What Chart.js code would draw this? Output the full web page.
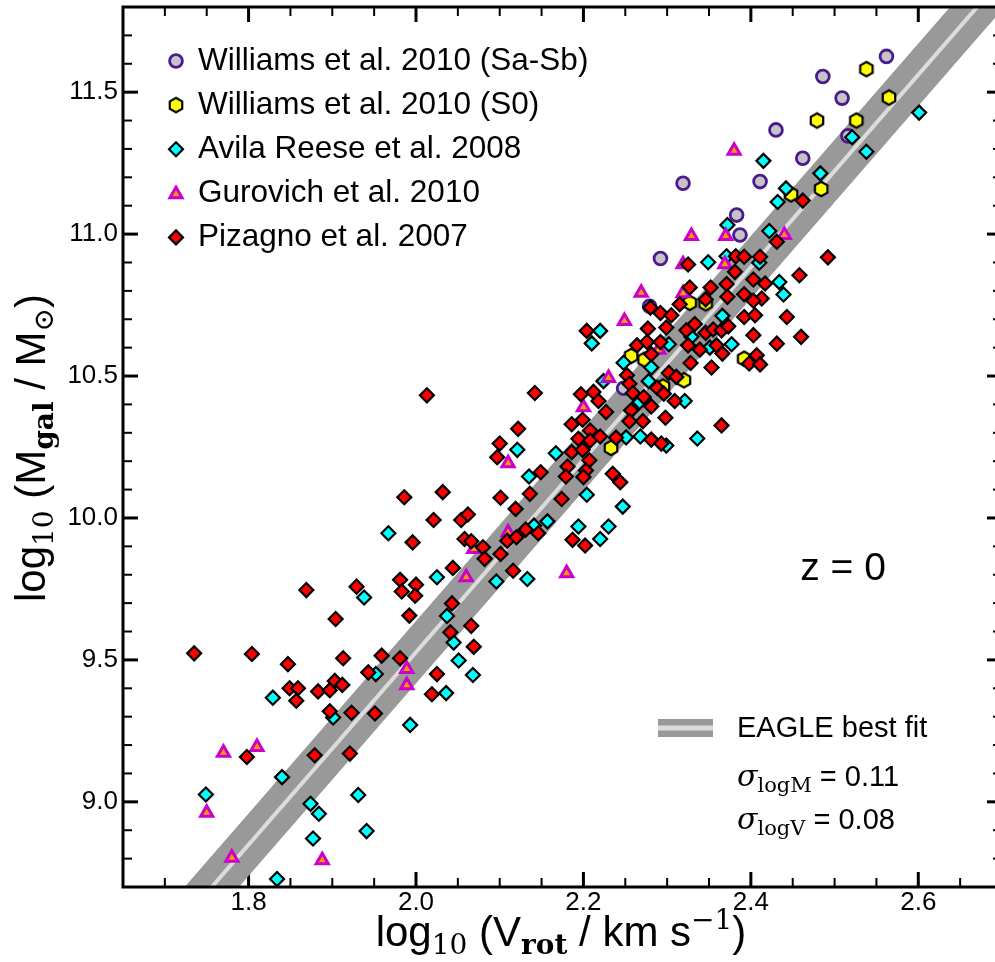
<!DOCTYPE html>
<html>
<head>
<meta charset="utf-8">
<title>Tully-Fisher relation at z = 0</title>
<script src="https://cdn.jsdelivr.net/npm/chart.js@4.4.1/dist/chart.umd.min.js"></script>
<style>
  html, body { margin: 0; padding: 0; overflow: hidden; background: #ffffff; }
  #wrap { position: absolute; left: 0; top: 0; width: 1010px; height: 962px; }
</style>
</head>
<body>
<div id="wrap"><canvas id="tfChart" width="1010" height="962"></canvas></div>
<script>
// Axis ranges and ticks
const xMin = 1.65, xMax = 2.70;
const yMin = 8.70, yMax = 11.80;
const xMajorTicks = [1.8, 2.0, 2.2, 2.4, 2.6];
const xTickLabels = ['1.8', '2.0', '2.2', '2.4', '2.6'];
const yMajorTicks = [9.0, 9.5, 10.0, 10.5, 11.0, 11.5];
const yTickLabels = ['9.0', '9.5', '10.0', '10.5', '11.0', '11.5'];
const xMinorStep = 0.05;
const yMinorStep = 0.1;

// Legend names
const seriesNames = [
  'Williams et al. 2010 (Sa-Sb)',
  'Williams et al. 2010 (S0)',
  'Avila Reese et al. 2008',
  'Gurovich et al. 2010',
  'Pizagno et al. 2007'
];

// log10 Vrot [km/s] and log10 Mgal [Msun]
const williamsSabX = [2.562, 2.486, 2.509, 2.430, 2.516, 2.462, 2.319, 2.411, 2.383, 2.387, 2.292, 2.279, 2.248];
const williamsSabY = [11.626, 11.555, 11.479, 11.367, 11.346, 11.267, 11.179, 11.185, 11.067, 10.997, 10.914, 10.746, 10.457];

const williamsS0X = [2.538, 2.565, 2.479, 2.526, 2.448, 2.484, 2.327, 2.346, 2.257, 2.273, 2.320, 2.295, 2.392, 2.233];
const williamsS0Y = [11.581, 11.481, 11.400, 11.400, 11.140, 11.159, 10.758, 10.756, 10.571, 10.558, 10.485, 10.463, 10.561, 10.247];

const avilaX = [2.601, 2.538, 2.521, 2.415, 2.483, 2.442, 2.432, 2.372, 2.422, 2.371,
  2.349, 2.410, 2.434, 2.439, 2.366, 2.220, 2.329, 2.210, 2.302, 2.351,
  2.377, 2.248, 2.281, 2.224, 2.278, 2.267, 2.321, 2.251, 2.268, 2.336,
  2.299, 2.167, 2.121, 2.135, 2.204, 2.247, 2.157, 2.141, 2.194, 2.230,
  2.220, 1.967, 2.025, 2.096, 2.133, 1.938, 2.037, 2.045, 2.051, 1.952,
  2.068, 2.036, 1.901, 1.993, 1.931, 1.941, 1.829, 1.840, 1.749, 1.874,
  1.884, 1.877, 1.834];
const avilaY = [11.428, 11.290, 11.341, 11.258, 11.214, 11.161, 11.113, 11.032, 11.011, 10.922,
  10.901, 10.899, 10.831, 10.787, 10.712, 10.659, 10.638, 10.615, 10.612, 10.600,
  10.612, 10.547, 10.530, 10.482, 10.482, 10.408, 10.412, 10.284, 10.287, 10.280,
  10.255, 10.228, 10.240, 10.146, 10.082, 10.040, 9.988, 9.973, 9.970, 9.970,
  9.926, 9.946, 9.791, 9.776, 9.785, 9.720, 9.655, 9.561, 9.498, 9.450,
  9.447, 9.383, 9.297, 9.271, 9.024, 8.897, 9.367, 9.087, 9.026, 8.993,
  8.958, 8.871, 8.728];

const gurovichX = [2.380, 2.329, 2.370, 2.440, 2.319, 2.369, 2.269, 2.319, 2.249, 2.290,
  2.230, 2.200, 2.110, 2.110, 2.069, 2.060, 2.180, 1.989, 1.989, 1.770,
  1.810, 1.750, 1.780, 1.888];
const gurovichY = [11.294, 10.993, 10.993, 10.997, 10.894, 10.894, 10.793, 10.792, 10.694, 10.593,
  10.493, 10.390, 10.193, 9.949, 9.891, 9.791, 9.805, 9.468, 9.411, 9.173,
  9.193, 8.962, 8.803, 8.794];

const pizagnoX = [2.325, 2.382, 2.392, 2.411, 2.431, 2.381, 2.403, 2.417, 2.371, 2.352,
  2.327, 2.372, 2.392, 2.413, 2.403, 2.346, 2.315, 2.280, 2.292, 2.305,
  2.204, 2.277, 2.299, 2.323, 2.333, 2.346, 2.355, 2.365, 2.373, 2.392,
  2.405, 2.443, 2.458, 2.403, 2.462, 2.492, 2.431, 2.264, 2.276, 2.292,
  2.281, 2.325, 2.339, 2.359, 2.366, 2.407, 2.398, 2.411, 2.328, 2.353,
  2.252, 2.255, 2.302, 2.311, 2.288, 2.296, 2.197, 2.212, 2.218, 2.259,
  2.272, 2.309, 2.227, 2.257, 2.281, 2.199, 2.186, 2.208, 2.255, 2.271,
  2.298, 2.365, 2.194, 2.208, 2.220, 2.239, 2.281, 2.293, 2.186, 2.199,
  2.207, 2.181, 2.203, 2.460, 2.013, 2.142, 2.122, 2.100, 2.097, 2.149,
  2.136, 2.101, 2.119, 2.174, 1.986, 2.032, 2.021, 2.054, 2.062, 1.996,
  2.058, 2.066, 2.080, 2.082, 2.101, 2.109, 2.120, 2.131, 2.146, 2.187,
  2.202, 2.044, 2.116, 1.981, 2.000, 1.929, 1.983, 1.999, 1.992, 2.043,
  1.904, 2.066, 2.041, 2.069, 1.913, 1.959, 1.981, 2.179, 2.200, 2.235,
  2.244, 1.943, 1.903, 1.912, 2.025, 2.019, 1.923, 1.951, 1.921, 1.869,
  1.735, 1.804, 1.847, 1.849, 1.859, 1.857, 1.883, 1.897, 1.897, 1.798,
  1.879];
const pizagnoY = [10.893, 10.922, 10.920, 10.920, 10.973, 10.867, 10.840, 10.826, 10.824, 10.812,
  10.812, 10.779, 10.788, 10.773, 10.765, 10.770, 10.753, 10.741, 10.722, 10.714,
  10.659, 10.667, 10.671, 10.661, 10.683, 10.652, 10.664, 10.661, 10.675, 10.708,
  10.714, 10.708, 10.855, 10.644, 11.118, 10.918, 10.614, 10.608, 10.620, 10.620,
  10.577, 10.608, 10.593, 10.608, 10.579, 10.573, 10.544, 10.541, 10.546, 10.530,
  10.503, 10.473, 10.511, 10.497, 10.459, 10.438, 10.436, 10.444, 10.412, 10.440,
  10.426, 10.412, 10.373, 10.379, 10.393, 10.346, 10.330, 10.308, 10.341, 10.341,
  10.353, 10.326, 10.279, 10.273, 10.287, 10.283, 10.276, 10.262, 10.232, 10.240,
  10.203, 10.181, 10.167, 10.638, 10.432, 10.440, 10.314, 10.262, 10.214, 10.161,
  10.085, 10.071, 10.032, 10.067, 10.073, 10.091, 9.993, 9.993, 10.012, 9.914,
  9.926, 9.918, 9.897, 9.856, 9.873, 9.920, 9.932, 9.959, 9.946, 9.923,
  9.903, 9.824, 9.814, 9.782, 9.765, 9.758, 9.741, 9.726, 9.656, 9.699,
  9.644, 9.620, 9.597, 9.546, 9.506, 9.515, 9.506, 10.146, 10.144, 10.156,
  10.126, 9.456, 9.426, 9.412, 9.450, 9.379, 9.314, 9.311, 9.170, 9.746,
  9.523, 9.521, 9.485, 9.400, 9.400, 9.356, 9.389, 9.393, 9.319, 9.158,
  9.164];

// EAGLE best fit and its +-0.11 dex band (end points beyond the axes)
const fitX = [1.70, 2.75];
const fitY = [8.51, 12.07];
const fitUpper = [8.62, 12.18];
const fitLower = [8.40, 11.96];

const SANS = '"Liberation Sans", Arial, sans-serif';
const SERIF = '"DejaVu Serif", "Liberation Serif", serif';

function pts(xs, ys) {
  return xs.map((x, i) => ({ x: x, y: ys[i] }));
}

// marker shapes (also used for the legend)
function hexPath(g, x, y, r) {
  g.beginPath();
  for (let k = 0; k < 6; k++) {
    const a = -Math.PI / 2 + k * Math.PI / 3;
    const px = x + r * Math.cos(a), py = y + r * Math.sin(a);
    if (k === 0) g.moveTo(px, py); else g.lineTo(px, py);
  }
  g.closePath();
}
function makeHexImage() {
  const c = document.createElement('canvas');
  c.width = 20; c.height = 20;
  const g = c.getContext('2d');
  hexPath(g, 10, 10, 7.2);
  g.fillStyle = '#ffff00'; g.fill();
  g.lineWidth = 2.2; g.strokeStyle = '#000000'; g.stroke();
  return c;
}
const hexImage = makeHexImage();

function markCircle(g, x, y) {
  g.beginPath(); g.arc(x, y, 6.4, 0, 2 * Math.PI);
  g.fillStyle = '#c4c4c4'; g.fill();
  g.lineWidth = 2.8; g.strokeStyle = '#4b1a8c'; g.stroke();
}
function markDiamond(g, x, y, fill) {
  const r = 7;
  g.beginPath();
  g.moveTo(x, y - r); g.lineTo(x + r, y); g.lineTo(x, y + r); g.lineTo(x - r, y); g.closePath();
  g.fillStyle = fill; g.fill();
  g.lineWidth = 2.2; g.strokeStyle = '#000000'; g.stroke();
}
function markTriangle(g, x, y) {
  const r = 7;
  g.beginPath();
  for (let k = 0; k < 3; k++) {
    const a = -Math.PI / 2 + k * 2 * Math.PI / 3;
    const px = x + r * Math.cos(a), py = y + r * Math.sin(a);
    if (k === 0) g.moveTo(px, py); else g.lineTo(px, py);
  }
  g.closePath();
  g.fillStyle = '#ff9900'; g.fill();
  g.lineWidth = 3; g.strokeStyle = '#cc00cc'; g.stroke();
}

// text with sub/superscripts: parts drawn one after another on one baseline
function drawRich(g, parts, x, y, align) {
  let w = 0;
  parts.forEach(p => { g.font = p.f; p.w = g.measureText(p.t).width; w += p.w; });
  let cx = align === 'center' ? x - w / 2 : x;
  g.textAlign = 'left';
  g.textBaseline = 'alphabetic';
  g.fillStyle = '#000000';
  parts.forEach(p => { g.font = p.f; g.fillText(p.t, cx, y + (p.dy || 0)); cx += p.w; });
}

const axesFrame = {
  id: 'axesFrame',
  beforeDatasetsDraw(chart) {
    const { ctx, chartArea: a, scales: { x, y } } = chart;
    ctx.save();
    ctx.strokeStyle = '#000000';
    const seg = (x1, y1, x2, y2, w) => {
      ctx.lineWidth = w; ctx.beginPath(); ctx.moveTo(x1, y1); ctx.lineTo(x2, y2); ctx.stroke();
    };
    for (let v = xMin + xMinorStep; v < xMax - 1e-6; v += xMinorStep) {
      const major = xMajorTicks.some(m => Math.abs(m - v) < 1e-6);
      const len = major ? 15 : 9, w = major ? 3 : 2;
      const px = x.getPixelForValue(v);
      seg(px, a.bottom, px, a.bottom - len, w);
      seg(px, a.top, px, a.top + len, w);
    }
    for (let v = yMin + yMinorStep; v < yMax - 1e-6; v += yMinorStep) {
      const major = yMajorTicks.some(m => Math.abs(m - v) < 1e-6);
      const len = major ? 15 : 9, w = major ? 3 : 2;
      const py = y.getPixelForValue(v);
      seg(a.left, py, a.left + len, py, w);
      seg(a.right, py, a.right - len, py, w);
    }
    ctx.restore();
  },
  afterDatasetsDraw(chart) {
    const { ctx, chartArea: a } = chart;
    ctx.save();
    ctx.lineWidth = 3;
    ctx.strokeStyle = '#000000';
    ctx.strokeRect(a.left, a.top, a.right - a.left, a.bottom - a.top);
    ctx.restore();
  },
  afterDraw(chart) {
    const ctx = chart.ctx;
    ctx.save();

    // legend of the observational samples
    const lx = 176, tx = 198, ly0 = 61, step = 44.1;
    markCircle(ctx, lx, ly0);
    ctx.drawImage(hexImage, lx - 10, ly0 + step - 10);
    markDiamond(ctx, lx, ly0 + 2 * step, '#00ffff');
    markTriangle(ctx, lx, ly0 + 3 * step + 1);
    markDiamond(ctx, lx, ly0 + 4 * step, '#ff0000');
    ctx.font = '31.5px ' + SANS;
    ctx.fillStyle = '#000000';
    ctx.textAlign = 'left';
    ctx.textBaseline = 'alphabetic';
    seriesNames.forEach((n, i) => ctx.fillText(n, tx, 69.5 + i * step));

    // redshift label
    ctx.font = '39px ' + SANS;
    ctx.textAlign = 'center';
    ctx.fillText('z = 0', 843, 580);

    // EAGLE fit legend
    ctx.fillStyle = '#999999';
    ctx.fillRect(658, 719, 55, 18);
    ctx.fillStyle = '#dcdcdc';
    ctx.fillRect(658, 725.5, 55, 5);
    ctx.fillStyle = '#000000';
    ctx.textAlign = 'left';
    ctx.font = '29px ' + SANS;
    ctx.fillText('EAGLE best fit', 737, 737);
    drawRich(ctx, [
      { t: '\u03c3', f: 'italic 30px ' + SERIF },
      { t: 'logM', f: '21px ' + SERIF, dy: 6 },
      { t: ' = 0.11', f: '29px ' + SANS }
    ], 737, 785.5, 'left');
    drawRich(ctx, [
      { t: '\u03c3', f: 'italic 30px ' + SERIF },
      { t: 'logV', f: '21px ' + SERIF, dy: 6 },
      { t: ' = 0.08', f: '29px ' + SANS }
    ], 737, 829, 'left');

    // axis titles
    const big = '42px ' + SANS, sub = '28px ' + SERIF, subB = 'bold 28px ' + SERIF;
    drawRich(ctx, [
      { t: 'log', f: big },
      { t: '10', f: sub, dy: 8 },
      { t: ' (', f: big },
      { t: 'V', f: big },
      { t: 'rot', f: subB, dy: 8 },
      { t: ' / km s', f: big },
      { t: '\u22121', f: sub, dy: -17 },
      { t: ')', f: big }
    ], 561, 946, 'center');

    ctx.translate(45, 448);
    ctx.rotate(-Math.PI / 2);
    drawRich(ctx, [
      { t: 'log', f: big },
      { t: '10', f: sub, dy: 8 },
      { t: ' (', f: big },
      { t: 'M', f: big },
      { t: 'gal', f: subB, dy: 8 },
      { t: ' / M', f: big },
      { t: '\u2299', f: sub, dy: 8 },
      { t: ')', f: big }
    ], 0, 0, 'center');
    ctx.restore();
  }
};

const tickFont = { family: 'Liberation Sans', size: 26 };

new Chart(document.getElementById('tfChart').getContext('2d'), {
  type: 'scatter',
  data: {
    datasets: [
      {
        label: seriesNames[4], data: pts(pizagnoX, pizagnoY), order: 1,
        pointStyle: 'rectRot', pointRadius: 7, backgroundColor: '#ff0000',
        borderColor: '#000000', borderWidth: 2.2
      },
      {
        label: seriesNames[3], data: pts(gurovichX, gurovichY), order: 2,
        pointStyle: 'triangle', pointRadius: 7, backgroundColor: '#ff9900',
        borderColor: '#cc00cc', borderWidth: 3
      },
      {
        label: seriesNames[2], data: pts(avilaX, avilaY), order: 3,
        pointStyle: 'rectRot', pointRadius: 7, backgroundColor: '#00ffff',
        borderColor: '#000000', borderWidth: 2.2
      },
      {
        label: seriesNames[1], data: pts(williamsS0X, williamsS0Y), order: 4,
        pointStyle: hexImage, pointRadius: 7.5
      },
      {
        label: seriesNames[0], data: pts(williamsSabX, williamsSabY), order: 5,
        pointStyle: 'circle', pointRadius: 6.4, backgroundColor: '#c4c4c4',
        borderColor: '#4b1a8c', borderWidth: 2.8
      },
      {
        type: 'line', label: 'band upper', data: pts(fitX, fitUpper), order: 10,
        borderColor: 'rgba(0,0,0,0)', borderWidth: 0, pointRadius: 0,
        fill: '+1', backgroundColor: '#999999'
      },
      {
        type: 'line', label: 'band lower', data: pts(fitX, fitLower), order: 11,
        borderColor: 'rgba(0,0,0,0)', borderWidth: 0, pointRadius: 0, fill: false
      },
      {
        type: 'line', label: 'EAGLE best fit', data: pts(fitX, fitY), order: 9,
        borderColor: '#dcdcdc', borderWidth: 4, pointRadius: 0, fill: false
      }
    ]
  },
  options: {
    responsive: false,
    animation: false,
    events: [],
    layout: { autoPadding: false, padding: { top: 7, right: 8, left: 0, bottom: 0 } },
    plugins: {
      legend: { display: false },
      tooltip: { enabled: false }
    },
    scales: {
      x: {
        type: 'linear', min: xMin, max: xMax,
        grid: { display: false, drawTicks: false },
        border: { display: false },
        afterBuildTicks: s => { s.ticks = xMajorTicks.map(v => ({ value: v })); },
        afterFit: s => { s.height = 75; s.paddingLeft = 0; s.paddingRight = 0; },
        ticks: {
          autoSkip: false, maxRotation: 0, padding: 0, color: '#000000', font: tickFont,
          callback: (v, i) => xTickLabels[i]
        }
      },
      y: {
        type: 'linear', min: yMin, max: yMax,
        grid: { display: false, drawTicks: false },
        border: { display: false },
        afterBuildTicks: s => { s.ticks = yMajorTicks.map(v => ({ value: v })); },
        afterFit: s => { s.width = 123; s.paddingTop = 0; s.paddingBottom = 0; },
        ticks: {
          autoSkip: false, padding: 5, color: '#000000', font: tickFont,
          callback: (v, i) => yTickLabels[i]
        }
      }
    }
  },
  plugins: [axesFrame]
});
</script>
</body>
</html>
